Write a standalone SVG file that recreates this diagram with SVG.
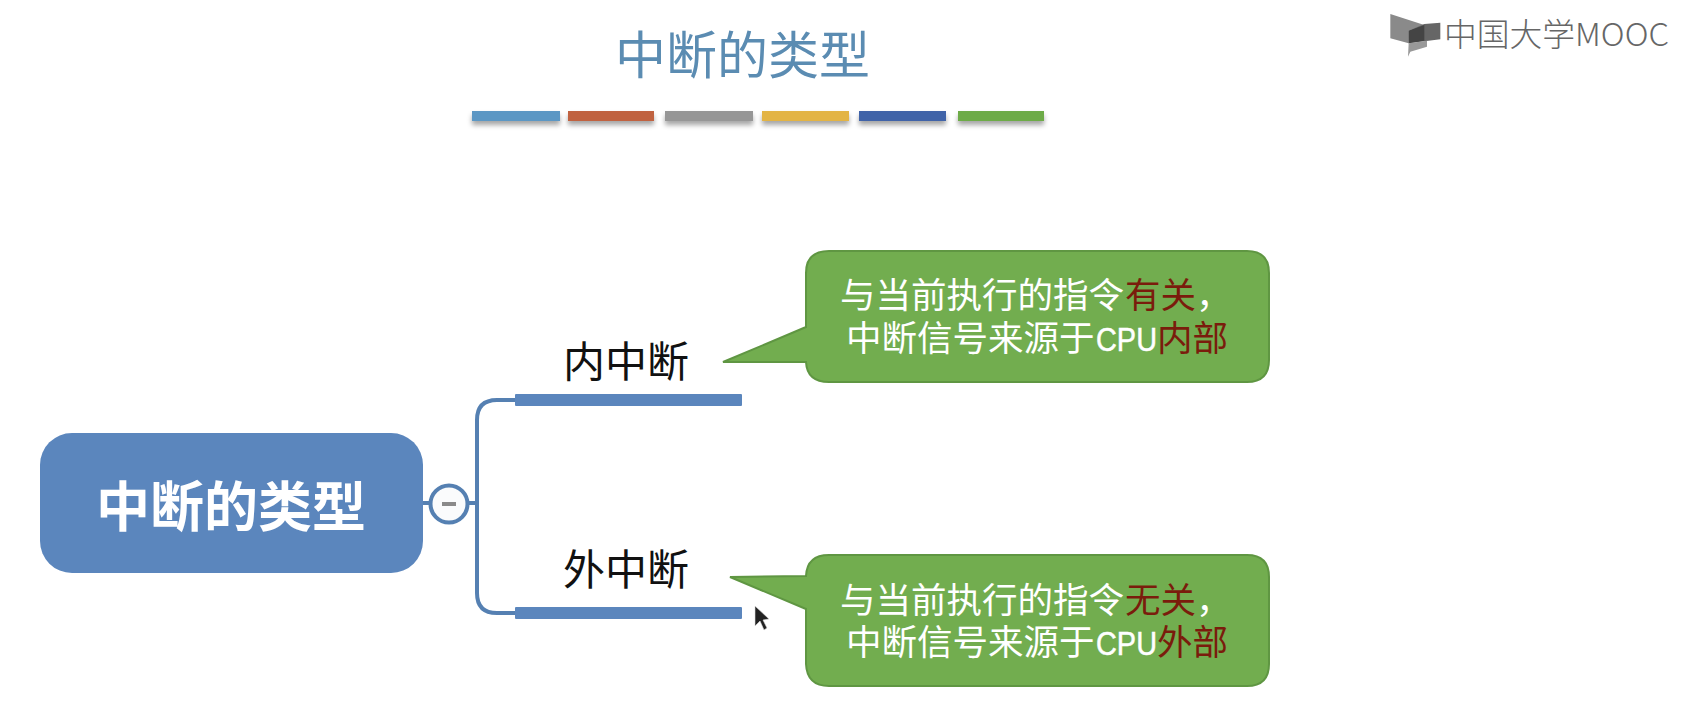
<svg xmlns="http://www.w3.org/2000/svg" width="1694" height="726" viewBox="0 0 1694 726">
<style>
text{font-family:"Noto Sans CJK SC","Noto Sans",sans-serif}
.title{font-size:51px;fill:#5b8cb2}
.hub{font-size:54px;font-weight:700;fill:#fff;text-anchor:middle}
.label{font-size:42px;fill:#111;text-anchor:middle}
.note{font-family:"Liberation Sans","Noto Sans CJK SC",sans-serif;font-size:35.5px;fill:#fff}
.hot{fill:#7a1c0c}
.cpu{font-size:33px;stroke:#fff;stroke-width:.5}
.bubble{fill:#72ad4f;stroke:#5f9642;stroke-width:2}
.branch{fill:#5b86bd}
.link{fill:none;stroke:#5580b2;stroke-width:4}
.logo{font-size:32px;font-weight:300;fill:#666}
</style>
<defs>
<filter id="soft" x="-10%" y="-60%" width="120%" height="260%"><feDropShadow dx="0" dy="4" stdDeviation="2.5" flood-color="#000" flood-opacity=".35"/></filter>
</defs>
<rect width="1694" height="726" fill="#fff"/>
<g id="logo">
<g transform="translate(1347 0) scale(.3333)">
<path d="M130 42 232 75 185 92V130L130 115Z" fill="#8a8a8a"/>
<path d="M232 72 280 68V118L185 130V92Z" fill="#666"/>
<path d="M185 92 232 75V122L185 130Z" fill="#444"/>
<path d="M185 130 240 122V140L190 155 183 170Z" fill="#999"/>
</g>
<text class="logo" x="1444" y="46" textLength="225" lengthAdjust="spacingAndGlyphs">中国大学MOOC</text>
</g>
<g id="title">
<text class="title" x="615" y="74">中断的类型</text>
<g filter="url(#soft)">
<rect x="472" y="111" width="88" height="10" fill="#5b97c4"/>
<rect x="568" y="111" width="86" height="10" fill="#c0623f"/>
<rect x="665" y="111" width="88" height="10" fill="#969696"/>
<rect x="762" y="111" width="87" height="10" fill="#e3b444"/>
<rect x="859" y="111" width="87" height="10" fill="#3f63a8"/>
<rect x="958" y="111" width="86" height="10" fill="#6dab46"/>
</g>
</g>
<g id="connectors">
<path class="link" d="M423 503H477M515 400H497Q477 400 477 420V593Q477 613 497 613H515"/>
</g>
<g id="root">
<rect x="40" y="433" width="383" height="140" rx="32" fill="#5b86bd"/>
<text class="hub" x="231" y="527">中断的类型</text>
</g>
<g id="collapse">
<circle cx="449" cy="504" r="18.5" fill="#fafbfc" stroke="#5580b2" stroke-width="4"/>
<rect x="442" y="502" width="14" height="4" fill="#8a8a8a"/>
</g>
<g id="inner">
<text class="label" x="626" y="377">内中断</text>
<rect class="branch" x="515" y="394" width="227" height="12" rx="1"/>
</g>
<g id="outer">
<text class="label" x="626" y="585">外中断</text>
<rect class="branch" x="515" y="607" width="227" height="12" rx="1"/>
</g>
<g id="note-inner">
<path class="bubble" d="M829 251H1247Q1269 251 1269 273V360Q1269 382 1247 382H829Q807 382 806 362L723 362 806 327V273Q806 251 829 251Z"/>
<text class="note" y="308"><tspan x="840">与当前执行的指令</tspan><tspan class="hot" x="1125">有关</tspan><tspan x="1196">，</tspan></text>
<text class="note" y="351"><tspan x="846">中断信号来源于</tspan><tspan class="cpu" x="1096" textLength="61" lengthAdjust="spacingAndGlyphs">CPU</tspan><tspan class="hot" x="1157">内部</tspan></text>
</g>
<g id="note-outer">
<path class="bubble" d="M829 555H1247Q1269 555 1269 577V664Q1269 686 1247 686H829Q807 686 806 664V609L730 577 806 576Q807 555 829 555Z"/>
<text class="note" y="613"><tspan x="840">与当前执行的指令</tspan><tspan class="hot" x="1125">无关</tspan><tspan x="1196">，</tspan></text>
<text class="note" y="655"><tspan x="846">中断信号来源于</tspan><tspan class="cpu" x="1096" textLength="61" lengthAdjust="spacingAndGlyphs">CPU</tspan><tspan class="hot" x="1157">外部</tspan></text>
</g>
<g id="cursor">
<path d="M755 606V626L760 621 764 630 767 628 763 620 769 619Z" fill="#222" stroke="#ddd" stroke-width=".6"/>
</g>
</svg>
